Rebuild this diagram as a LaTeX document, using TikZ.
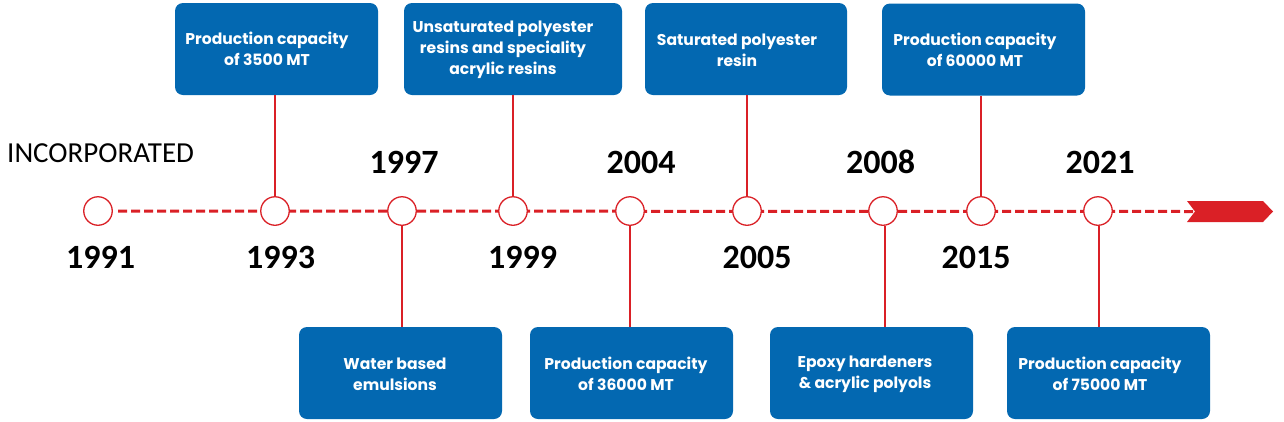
\documentclass[tikz,border=0pt]{standalone}
\usepackage{fontspec}
\newfontfamily\popp{Poppins}
\newfontfamily\carl{Carlito}
\definecolor{boxblue}{RGB}{3,104,177}
\definecolor{tlred}{RGB}{218,32,38}
\begin{document}
\begin{tikzpicture}[x=1pt,y=-1pt,
  evbox/.style={fill=boxblue,rounded corners=8pt,minimum width=203pt,minimum height=92pt,inner sep=0pt},
  evtext/.style={text=white,font=\popp\bfseries\fontsize{15.6}{21}\selectfont,align=center,inner sep=0pt},
  dot/.style={circle,draw=tlred,fill=white,line width=1.3pt,minimum size=28.5pt,inner sep=0pt},
  yr/.style={font=\carl\bfseries\fontsize{34}{34}\selectfont,inner sep=0pt,anchor=base},
  stem/.style={draw=tlred,line width=2pt},
  axis/.style={draw=tlred,line width=3pt,dash pattern=on 9pt off 4pt}]
\useasboundingbox (0,0) rectangle (1284,421);
% arrow head
\coordinate (a1) at (1187,201);
\coordinate (a2) at (1263,201);
\coordinate (a3) at (1273,211.5);
\coordinate (a4) at (1263,222);
\coordinate (a5) at (1187,222);
\coordinate (a6) at (1195,211.5);
% axis
\coordinate (axs) at (118,211);
\draw[axis] (axs) -- (a6);
\fill[tlred] (a1) -- (a2) -- (a3) -- (a4) -- (a5) -- (a6) -- cycle;
% circles
\node[dot] (c1991) at (98,211) {};
\node[dot] (c1993) at (275,211) {};
\node[dot] (c1997) at (402,211) {};
\node[dot] (c1999) at (513,211) {};
\node[dot] (c2004) at (630,211) {};
\node[dot] (c2005) at (747,211) {};
\node[dot] (c2008) at (883,211) {};
\node[dot] (c2015) at (981,211) {};
\node[dot] (c2021) at (1098,211) {};
% boxes
\node[evbox] (b1993) at (276.5,49) {};
\node[evbox,minimum width=218pt] (b1999) at (513,49) {};
\node[evbox,minimum width=202pt] (b2005) at (746,49) {};
\node[evbox] (b2015) at (983.5,49.5) {};
\node[evbox] (b1997) at (400.5,373) {};
\node[evbox] (b2004) at (631.5,373) {};
\node[evbox] (b2008) at (871.5,373) {};
\node[evbox] (b2021) at (1108.5,373) {};
% stems
\draw[stem] (c1993.north) -- (c1993.north |- b1993.south);
\draw[stem] (c1999.north) -- (c1999.north |- b1999.south);
\draw[stem] (c2005.north) -- (c2005.north |- b2005.south);
\draw[stem] (c2015.north) -- (c2015.north |- b2015.south);
\draw[stem] (c1997.south) -- (c1997.south |- b1997.north);
\draw[stem] (c2004.south) -- (c2004.south |- b2004.north);
\draw[stem] ([xshift=2pt]c2008.south) -- ([xshift=2pt]c2008.south |- b2008.north);
\draw[stem] ([xshift=1pt]c2021.south) -- ([xshift=1pt]c2021.south |- b2021.north);
% box texts
\node[evtext] (t1993) at (267,49) {Production capacity\\of 3500 MT};
\node[evtext] (t1999) at (503,50) {Unsaturated polyester\\resins and speciality\\acrylic resins};
\node[evtext] (t2005) at (737,50) {Saturated polyester\\resin};
\node[evtext] (t2015) at (975,50) {Production capacity\\of 60000 MT};
\node[evtext] (t1997) at (395,374) {Water based\\emulsions};
\node[evtext] (t2004) at (626,374) {Production capacity\\of 36000 MT};
\node[evtext] (t2008) at (865,374) {Epoxy hardeners\\\&\ acrylic polyols};
\node[evtext] (t2021) at (1100,374) {Production capacity\\of 75000 MT};
% years
\node[font=\carl\fontsize{29}{29}\selectfont,inner sep=0pt,anchor=base west] (inc) at (7,162) {INCORPORATED};
\node[yr] (y1991) at (100.5,268) {1991};
\node[yr] (y1993) at (280.5,268) {1993};
\node[yr] (y1999) at (522.5,268) {1999};
\node[yr] (y2005) at (757,268) {2005};
\node[yr] (y2015) at (976,268) {2015};
\node[yr] (y1997) at (404,173) {1997};
\node[yr] (y2004) at (641,173) {2004};
\node[yr] (y2008) at (880.5,173) {2008};
\node[yr] (y2021) at (1100,173) {2021};
\end{tikzpicture}
\end{document}
